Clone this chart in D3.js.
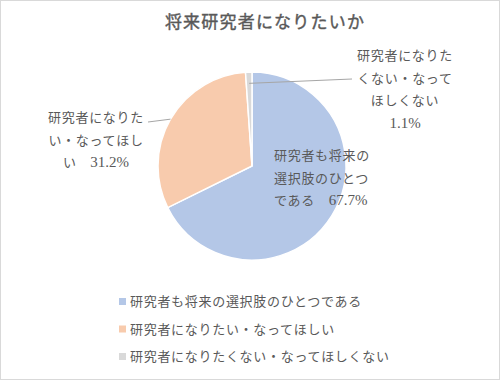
<!DOCTYPE html>
<html>
<head>
<meta charset="utf-8">
<title>将来研究者になりたいか</title>
<style>
	body { margin: 0; background: #fff; }
	svg text { font-family: "Liberation Serif", "DejaVu Serif", "Noto Sans CJK JP", serif; fill: #595959; }
</style>
</head>
<body>
<svg width="500" height="380"></svg>
<script src="https://cdn.jsdelivr.net/npm/d3@7"></script>
<script>
	// データ
	const categories = ["研究者も将来の選択肢のひとつである", "研究者になりたい・なってほしい", "研究者になりたくない・なってほしくない"]
	const values = [67.7, 31.2, 1.1]
	const colors = ["#B4C7E7", "#F8CBAD", "#D9D9D9"]
	// データラベル（折り返し済み）
	const labelLines = [
		["研究者も将来の", "選択肢のひとつ", "である　67.7%"],
		["研究者になりた", "い・なってほし", "い　31.2%"],
		["研究者になりた", "くない・なって", "ほしくない", "1.1%"]
	]

	const W = 500, H = 380
	const cx = 252, cy = 166, r = 94
	const svg = d3.select("svg")

	// 枠
	svg.append("rect").attr("x", 0.5).attr("y", 0.5).attr("width", W - 1).attr("height", H - 1)
		.attr("fill", "#fff").attr("stroke", "#D9D9D9")

	// タイトル
	svg.append("text").attr("x", 265).attr("y", 28)
		.attr("text-anchor", "middle").style("font-size", "17px")
		.style("letter-spacing", "1.2px")
		.attr("stroke", "#595959").attr("stroke-width", 0.4)
		.text("将来研究者になりたいか")

	// 円グラフ
	const pie = d3.pie().sort(null)(values)
	const arc = d3.arc().innerRadius(0).outerRadius(r)
	const g = svg.append("g").attr("transform", `translate(${cx},${cy})`)
	g.selectAll("path").data(pie).enter().append("path")
		.attr("d", arc)
		.attr("fill", (d, i) => colors[i])
		.attr("stroke", "#fff").attr("stroke-width", 1.5)

	// ラベル配置 (中心からのオフセット) と引き出し線
	const labelPos = [
		{ x: 274 - cx, y: 160 - cy, anchor: "start", lead: null },
		{ x: 96 - cx, y: 122 - cy, anchor: "middle", lead: { k: 1.0, x: 148 - cx, y: 122 - cy } },
		{ x: 405 - cx, y: 60 - cy, anchor: "middle", lead: { k: 0.88, x: 352 - cx, y: 79 - cy } }
	]
	const lh = 22.5

	// 数字部分は少し大きく
	function fillLine(t, s) {
		s.split(/([0-9.%]+)/).filter(x => x).forEach(part => {
			const sp = t.append("tspan").text(part)
			if (/^[0-9.%]+$/.test(part)) sp.style("font-size", "15px").style("letter-spacing", "0px")
		})
	}

	pie.forEach((d, i) => {
		const p = labelPos[i]
		if (p.lead) {
			const a = (d.startAngle + d.endAngle) / 2
			const rr = r * p.lead.k
			g.append("line")
				.attr("x1", Math.sin(a) * rr).attr("y1", -Math.cos(a) * rr)
				.attr("x2", p.lead.x).attr("y2", p.lead.y)
				.attr("stroke", "#A6A6A6").attr("stroke-width", 1)
		}
		labelLines[i].forEach((s, j) => {
			const t = g.append("text").attr("text-anchor", p.anchor)
				.attr("x", p.x).attr("y", p.y + j * lh)
				.style("font-size", "13px").style("letter-spacing", "0.7px")
			fillLine(t, s)
		})
	})

	// 凡例
	const lg = svg.append("g").attr("transform", "translate(119,298)")
	const row = lg.selectAll("g").data(categories).enter().append("g")
		.attr("transform", (d, i) => `translate(0,${i * 27.5})`)
	row.append("rect").attr("width", 7).attr("height", 7)
		.attr("fill", (d, i) => colors[i])
	row.append("text").attr("x", 11).attr("y", 8)
		.style("font-size", "13px").style("letter-spacing", "0.7px")
		.text(d => d)
</script>
</body>
</html>
